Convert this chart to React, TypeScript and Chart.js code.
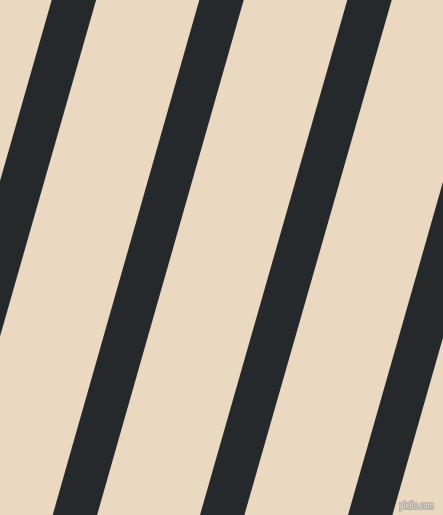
import React, { useEffect, useRef } from "react";
import { Chart, registerables } from "chart.js";

Chart.register(...registerables);

// Stripe edges in pixel-unit data space (x: 0..443, y: 0..515 from top)
const stripeNames = ["stripe 0", "stripe 1", "stripe 2", "stripe 3"];
const topLeftX = [51.7, 199.3, 347.3, 494.8];
const bottomLeftX = [-95.4, 52.7, 200.0, 348.0];
const stripeWidthX = [44.4, 44.4, 44.4, 44.4];
const plotWidth = 443;
const plotHeight = 515;
const watermark = "pixlis.com";

const BG = "#EAD9C0";
const STRIPE = "#25292C";

export default function App() {
  const ref = useRef<HTMLCanvasElement | null>(null);

  useEffect(() => {
    document.body.style.margin = "0";
    const canvas = ref.current;
    if (!canvas) return;

    const datasets = stripeNames.map((name, i) => ({
      label: name,
      data: [
        { x: topLeftX[i], y: 0 },
        { x: topLeftX[i] + stripeWidthX[i], y: 0 },
        { x: bottomLeftX[i] + stripeWidthX[i], y: plotHeight },
        { x: bottomLeftX[i], y: plotHeight },
      ],
      showLine: true,
      fill: "shape",
      backgroundColor: STRIPE,
      borderColor: STRIPE,
      borderWidth: 0,
      pointRadius: 0,
      pointHoverRadius: 0,
      tension: 0,
      clip: 0,
    }));

    const bgPlugin = {
      id: "bgfill",
      beforeDraw(chart: any) {
        const { ctx, width, height } = chart;
        ctx.save();
        ctx.fillStyle = BG;
        ctx.fillRect(0, 0, width, height);
        ctx.restore();
      },
      afterDraw(chart: any) {
        const { ctx, width, height } = chart;
        ctx.save();
        ctx.font = "bold 10px 'DejaVu Sans'";
        const w = ctx.measureText(watermark).width;
        const targetW = 35;
        const sx = targetW / w;
        ctx.translate(width - 9 - targetW, height - 6);
        ctx.scale(sx, 1);
        ctx.textAlign = "left";
        ctx.textBaseline = "alphabetic";
        ctx.lineWidth = 1.6;
        ctx.lineJoin = "round";
        ctx.strokeStyle = "#A0998F";
        ctx.strokeText(watermark, 0, 0);
        ctx.fillStyle = "#D6D0C6";
        ctx.fillText(watermark, 0, 0);
        ctx.restore();
      },
    };

    const chart = new Chart(canvas, {
      type: "scatter",
      data: { datasets: datasets as any },
      options: {
        animation: false,
        responsive: false,
        maintainAspectRatio: false,
        layout: { padding: 0 },
        plugins: {
          legend: { display: false },
          tooltip: { enabled: false },
          title: { display: false },
        },
        events: [],
        scales: {
          x: { type: "linear", min: 0, max: plotWidth, display: false },
          y: { type: "linear", min: 0, max: plotHeight, reverse: true, display: false },
        },
      },
      plugins: [bgPlugin],
    });

    return () => chart.destroy();
  }, []);

  return (
    <div style={{ position: "fixed", left: 0, top: 0, width: plotWidth, height: plotHeight }}>
      <canvas ref={ref} width={plotWidth} height={plotHeight} style={{ display: "block" }} />
    </div>
  );
}
